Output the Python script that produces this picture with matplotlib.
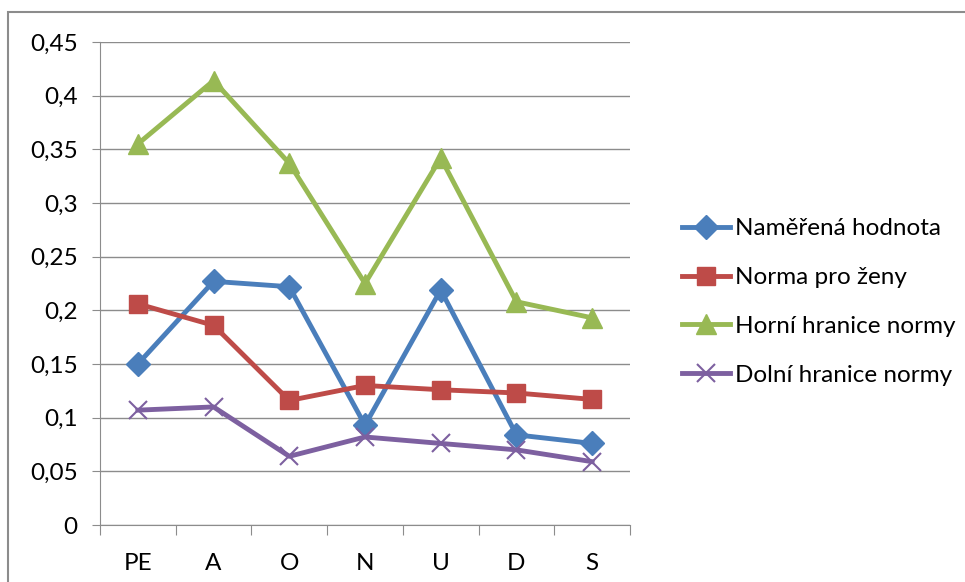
"""Naměřená hodnota vs. norma - line chart with markers."""

from matplotlib import pyplot as plt
from matplotlib.patches import Rectangle
from matplotlib.ticker import FuncFormatter, MultipleLocator

categories = ["PE", "A", "O", "N", "U", "D", "S"]
namerena = [0.150, 0.227, 0.222, 0.093, 0.219, 0.084, 0.076]
norma_zeny = [0.206, 0.186, 0.116, 0.130, 0.126, 0.123, 0.117]
horni = [0.355, 0.414, 0.337, 0.225, 0.342, 0.208, 0.193]
dolni = [0.107, 0.110, 0.064, 0.082, 0.076, 0.070, 0.059]

series = [
    ("Naměřená hodnota", namerena, "#4A7EBB", "D", 12),
    ("Norma pro ženy", norma_zeny, "#BE4B48", "s", 13),
    ("Horní hranice normy", horni, "#98B954", "^", 14),
    ("Dolní hranice normy", dolni, "#7D60A0", "x", 13),
]

plt.rcParams["font.family"] = ["Lato", "DejaVu Sans"]

figure = plt.figure(figsize=(9.65, 5.82), dpi=100)
figure.patches.append(
    Rectangle((8 / 965, -0.05), 1.1, 1 - 12 / 582 + 0.05, transform=figure.transFigure,
              fill=False, edgecolor="#8c8c8c", linewidth=1.5)
)
axis = figure.add_axes([100 / 965, 1 - 525 / 582, 530 / 965, 483 / 582])

x_values = range(len(categories))
for label, values, color, marker, size in series:
    axis.plot(
        x_values, values, color=color, linewidth=3.5, marker=marker, markersize=size,
        markeredgewidth=1.5 if marker == "x" else 1, markeredgecolor=color, label=label,
    )

axis.set_xlim(-0.5, len(categories) - 0.5)
axis.set_ylim(0, 0.45)
axis.yaxis.set_major_locator(MultipleLocator(0.05))
axis.yaxis.set_major_formatter(
    FuncFormatter(lambda v, _: "0" if abs(v) < 1e-9 else f"{v:.2f}".rstrip("0").replace(".", ","))
)
axis.set_xticks([i + 0.5 for i in range(-1, len(categories))], minor=False)
axis.set_xticklabels([])
axis.set_xticks(list(x_values), minor=True)
axis.set_xticklabels(categories, minor=True)
axis.tick_params(axis="x", which="minor", length=0, pad=20, labelsize=17.5)
axis.tick_params(axis="x", which="major", length=7, color="#8c8c8c")
axis.tick_params(axis="y", length=6, color="#8c8c8c", labelsize=17.5, pad=10)
axis.grid(True, axis="y", color="#8c8c8c", linewidth=1)
axis.set_axisbelow(True)
for side in ("top", "right"):
    axis.spines[side].set_visible(False)
for side in ("left", "bottom"):
    axis.spines[side].set_color("#8c8c8c")

axis.legend(
    loc="center left", bbox_to_anchor=(660 / 965, 1 - 302 / 582), bbox_transform=figure.transFigure,
    frameon=False, fontsize=17.5, handlelength=2.0, labelspacing=1.15, handletextpad=0.2,
)

figure.savefig("out.png", dpi=100)
